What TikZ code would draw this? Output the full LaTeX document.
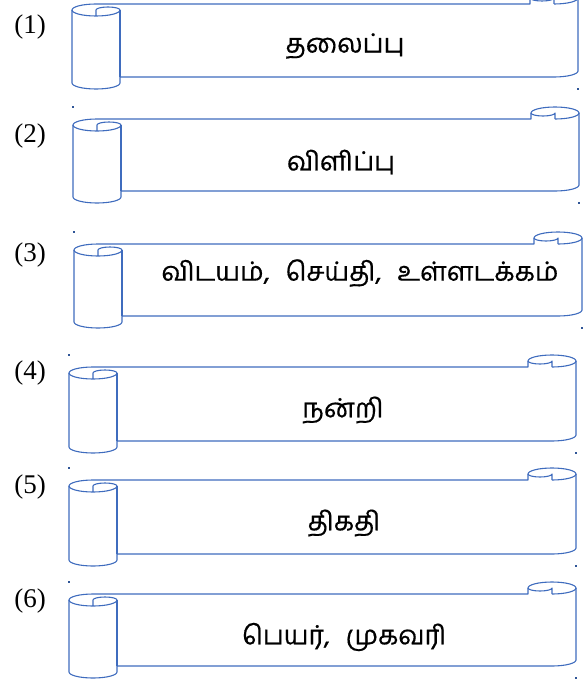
\documentclass[tikz,border=0pt]{standalone}
\usepackage{fontspec}
\setmainfont{Liberation Serif}
\newfontfamily\tamilfont[Script=Tamil,FakeBold=0.5]{Hind Madurai}
\definecolor{scrollblue}{HTML}{3F6CBE}
\definecolor{dotblue}{HTML}{2F5597}
\tikzset{
  scrollline/.style={draw=scrollblue,line width=1.1pt,line join=round},
  numlabel/.style={font=\fontsize{27}{30}\selectfont,inner sep=0pt,anchor=center},
  tamiltext/.style={font=\tamilfont\fontsize{26.4}{30}\selectfont,inner sep=0pt,anchor=center,text=black},
  anchordot/.style={fill=dotblue,draw=none,minimum size=1.6pt,inner sep=0pt,shape=rectangle}
}
\newcommand\drawscroll[5]{% name, L, R, T, B (pixels, y down)
  \pgfmathsetmacro\sL{#2}\pgfmathsetmacro\sR{#3}%
  \pgfmathsetmacro\sT{#4}\pgfmathsetmacro\sB{#5}%
  \pgfmathsetmacro\xa{\sL+24}\pgfmathsetmacro\xb{\sL+48}%
  \pgfmathsetmacro\xc{\sR-48}\pgfmathsetmacro\xd{\sR-24}%
  \pgfmathsetmacro\ya{-(\sT+6)}\pgfmathsetmacro\yb{-(\sT+12)}%
  \pgfmathsetmacro\yc{-(\sT+18)}\pgfmathsetmacro\yd{-(\sT+24)}%
  \pgfmathsetmacro\ye{-(\sB-18)}\pgfmathsetmacro\yf{-(\sB-12)}\pgfmathsetmacro\yg{-(\sB-6)}%
  \coordinate (#1tl) at (\sL,-\sT);
  \coordinate (#1br) at (\sR,-\sB);
  \draw[scrollline,fill=white] (\sL,\yc)
    arc[start angle=180,end angle=90,x radius=24pt,y radius=6pt]
    -- (\xc,\yb) -- (\xc,\ya)
    arc[start angle=180,end angle=0,x radius=24pt,y radius=6pt]
    -- (\sR,\ye)
    arc[start angle=0,end angle=-90,x radius=24pt,y radius=6pt]
    -- (\xb,\yf) -- (\xb,\yg)
    arc[start angle=0,end angle=-180,x radius=24pt,y radius=6pt]
    -- cycle;
  \draw[scrollline] (\xd,\yb) -- (\xd,\ya)
    arc[start angle=0,end angle=-180,x radius=12pt,y radius=3pt];
  \draw[scrollline] (\sR,\ya)
    arc[start angle=0,end angle=-90,x radius=24pt,y radius=6pt];
  \draw[scrollline] (\xa,\yd) -- (\xa,\yc)
    arc[start angle=180,end angle=0,x radius=12pt,y radius=3pt]
    arc[start angle=0,end angle=-180,x radius=24pt,y radius=6pt];
  \draw[scrollline] (\xb,\yc) -- (\xb,\yf);
  \node[anchordot] (#1d1) at (#1tl) {};
  \node[anchordot] (#1d2) at (#1br) {};
}
\begin{document}
\begin{tikzpicture}[x=1pt,y=1pt]
\useasboundingbox (0,0) rectangle (588,-685);
\clip (0,0) rectangle (588,-685);
\drawscroll{sa}{72}{578}{-8}{89}
\drawscroll{sb}{73}{579}{107}{203}
\drawscroll{sc}{74}{582}{232}{328}
\drawscroll{sd}{69}{576}{355}{453}
\drawscroll{se}{69}{576}{468}{566}
\drawscroll{sf}{69}{576}{582}{678}
\node[numlabel] (n1) at (30,-27) {(1)};
\node[numlabel] (n2) at (30,-136) {(2)};
\node[numlabel] (n3) at (30,-255) {(3)};
\node[numlabel] (n4) at (30,-373) {(4)};
\node[numlabel] (n5) at (30,-487) {(5)};
\node[numlabel] (n6) at (30,-601) {(6)};
\node[tamiltext] (t1) at (345,-46) {தலைப்பு};
\node[tamiltext] (t2) at (341,-162) {விளிப்பு};
\node[tamiltext] (t3) at (360,-273) {விடயம்,\hspace{0.6em}செய்தி,\hspace{0.6em}உள்ளடக்கம்};
\node[tamiltext] (t4) at (343,-410) {நன்றி};
\node[tamiltext] (t5) at (344,-523) {திகதி};
\node[tamiltext] (t6) at (344,-637) {பெயர்,\hspace{0.6em}முகவரி};
\end{tikzpicture}
\end{document}
